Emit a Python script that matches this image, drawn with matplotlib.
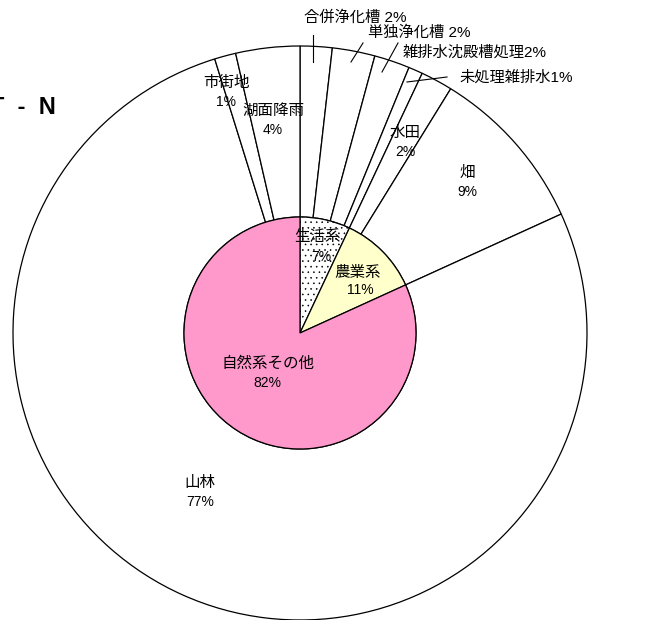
import matplotlib
matplotlib.use("Agg")
import matplotlib.pyplot as plt

plt.rcParams['font.family'] = ['Liberation Sans', 'Noto Sans CJK JP', 'DejaVu Sans']
plt.rcParams['hatch.linewidth'] = 0.4

# inner ring: source groups (%)
group_names = ['生活系', '農業系', '自然系その他']
group_vals = [7.0, 11.2, 81.8]
group_colors = ['white', '#FFFFCC', '#FF99CC']
group_hatch = ['...', None, None]

# outer ring: sources (%), clockwise from 12 o'clock
source_names = ['合併浄化槽', '単独浄化槽', '雑排水沈殿槽処理', '未処理雑排水',
                '水田', '畑', '山林', '市街地', '湖面降雨']
source_vals = [1.8, 2.4, 2.0, 0.8, 1.8, 9.4, 77.0, 1.2, 3.6]

W, H = 666, 620
cx, cy = 300, H - 333
R_out, R_in = 287, 116

fig = plt.figure(figsize=(W / 100, H / 100), dpi=100)
ax = fig.add_axes([0, 0, 1, 1])

ax.pie(source_vals, radius=R_out, center=(cx, cy), startangle=90,
       counterclock=False, colors=['white'] * len(source_vals),
       wedgeprops=dict(width=R_out - R_in, edgecolor='black', linewidth=0.9))

wedges, _ = ax.pie(group_vals, radius=R_in, center=(cx, cy), startangle=90,
                   counterclock=False, colors=group_colors,
                   wedgeprops=dict(edgecolor='black', linewidth=0.9))
for w, h in zip(wedges, group_hatch):
    if h:
        w.set_hatch(h)

ax.set_xlim(0, W)
ax.set_ylim(0, H)
ax.set_aspect('auto')
ax.axis('off')


def pct(v):
    return f"{round(v)}%"


fs_name = 11.2
fs_pct = 10


def two_line(name, v, x, y, x2=None, gap=20):
    # name on top, percentage below it (pixel coords, y from top)
    ax.text(x, H - y, name, ha='center', va='center', fontsize=fs_name)
    ax.text(x if x2 is None else x2, H - (y + gap), pct(v), ha='center',
            va='center', fontsize=fs_pct)


# labels inside the pie
group_pos = [(317, 237, 321, 20), (358, 272, 360, 18), (268, 363, 267, 20)]
for name, v, (x, y, x2, g) in zip(group_names, group_vals, group_pos):
    two_line(name, v, x, y, x2, g)

# two-line labels in the ring
ring_pos = {4: (405, 132), 5: (467, 172), 6: (200, 482), 7: (226, 82), 8: (273, 110)}
for i, (x, y) in ring_pos.items():
    two_line(source_names[i], source_vals[i], x, y)

# one-line labels with leader lines for the small household sources
top_pos = [(355, 18), (419, 33), (475, 52), (516, 77)]
top_fmt = ["{} {}", "{} {}", "{}{}", "{}{}"]
leaders = [((313, 35), (313, 62)), ((363, 43), (351, 62)),
           ((398, 43), (382, 72)), ((447, 77), (407, 82))]
for i, ((x, y), fmt, (p0, p1)) in enumerate(zip(top_pos, top_fmt, leaders)):
    ax.text(x, H - y, fmt.format(source_names[i], pct(source_vals[i])),
            ha='center', va='center', fontsize=11)
    ax.plot([p0[0], p1[0]], [H - p0[1], H - p1[1]], color='black', lw=0.8)

# title runs off the left edge in the original too
ax.text(56, H - 108, "T  -  N", ha='right', va='center', fontsize=17,
        fontweight='bold')

fig.savefig("out.png", dpi=100)
